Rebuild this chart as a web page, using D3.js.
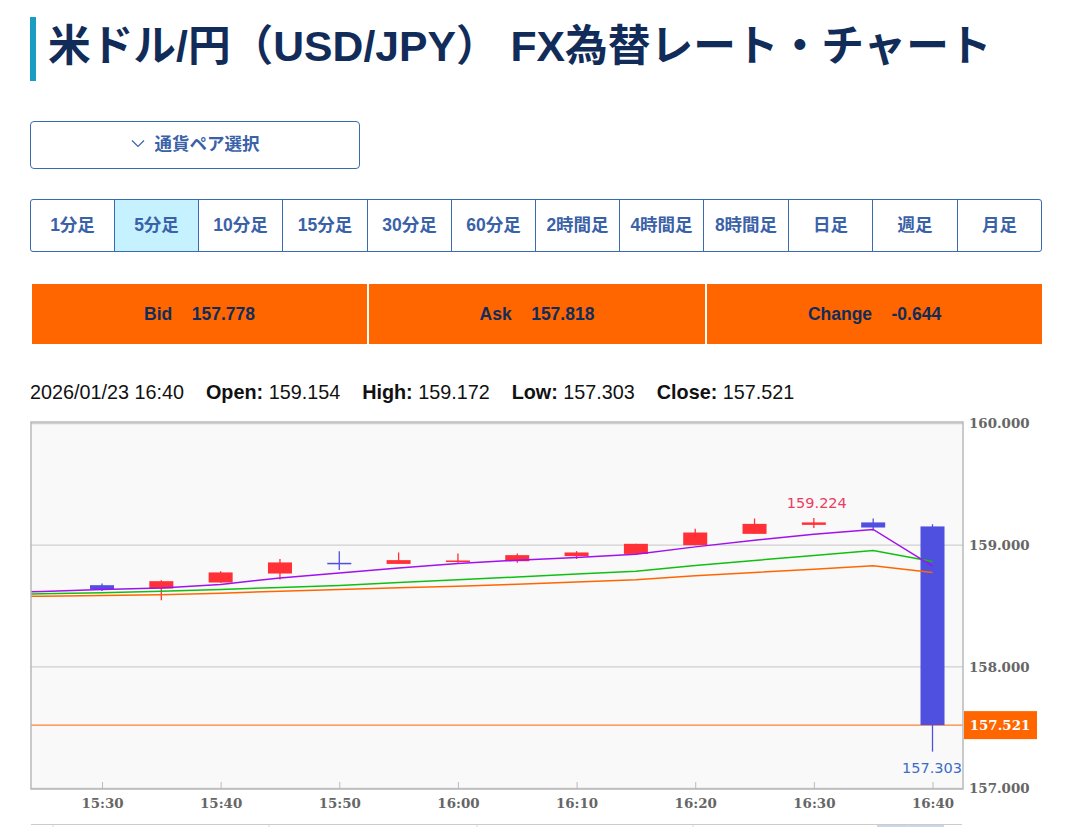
<!DOCTYPE html>
<html lang="ja">
<head>
<meta charset="UTF-8">
<title>米ドル/円（USD/JPY） FX為替レート・チャート</title>
<script src="https://d3js.org/d3.v7.min.js"></script>
<style>
    html, body { margin: 0; padding: 0; background: #fff; overflow: hidden; }
    body { width: 1087px; height: 827px; position: relative; font-family: "Liberation Sans", "Noto Sans CJK JP", sans-serif; }
    .title { position: absolute; left: 30px; top: 17px; height: 64px; width: 1040px; border-left: 6px solid #1a9dc2; box-sizing: border-box;
        padding-left: 12px; font-size: 42.7px; font-weight: bold; line-height: 58px; color: #122c5a; white-space: pre; }
    .pair { position: absolute; left: 30px; top: 121px; width: 330px; height: 48px; box-sizing: border-box; border: 1px solid #3a6ab0; border-radius: 4px;
        text-align: center; line-height: 45px; font-size: 17.5px; font-weight: bold; color: #3a62a8; }
    .pair svg { vertical-align: middle; margin: -3px 10px 0 0; }
    .tabs { position: absolute; left: 30px; top: 199px; width: 1012px; height: 53px; box-sizing: border-box; border: 1px solid #3a6ab0; border-radius: 3px; }
    .tab { position: absolute; top: 0; height: 51px; box-sizing: border-box; text-align: center; line-height: 51px; font-size: 17.5px; font-weight: bold; color: #3a62a8; border-right: 1px solid #3a6ab0; }
    .tab.on { background: #c6f2ff; }
    .tab:last-child { border-right: none; }
    .quote { position: absolute; top: 284px; height: 60px; background: #ff6600; text-align: center; line-height: 60px; font-size: 17.5px; font-weight: bold; color: #122c5a; white-space: pre; }
    .ohlc { position: absolute; left: 30px; top: 381px; font-size: 19.8px; line-height: 22px; color: #111; white-space: pre; }
    #chart { position: absolute; left: 0; top: 0; }
</style>
</head>
<body>
<div class="title">米ドル/円（USD/JPY） FX為替レート・チャート</div>
<div class="pair"><svg width="14" height="9"><path d="M1 1.5 L7 7.5 L13 1.5" fill="none" stroke="#3a62a8" stroke-width="1.2"/></svg>通貨ペア選択</div>
<div class="tabs" id="tabs"></div>
<div id="quotes"></div>
<div class="ohlc" id="ohlc"></div>
<svg id="chart" width="1087" height="827"></svg>
<script>
    // ohlc
    const times = ['15:30','15:35','15:40','15:45','15:50','15:55','16:00','16:05','16:10','16:15','16:20','16:25','16:30','16:35','16:40'];
    const opens = [158.671,158.644,158.693,158.767,158.855,158.846,158.868,158.868,158.910,158.928,159.000,159.093,159.167,159.187,159.154];
    const highs = [158.684,158.712,158.786,158.887,158.951,158.940,158.932,158.932,158.951,159.011,159.134,159.219,159.224,159.220,159.172];
    const lows = [158.624,158.548,158.690,158.718,158.795,158.846,158.855,158.855,158.887,158.928,159.000,159.093,159.142,159.120,157.303];
    const closes = [158.638,158.704,158.776,158.858,158.850,158.877,158.874,158.918,158.940,159.011,159.104,159.175,159.187,159.145,157.521];

    // moving averages, they start before the first candle
    const maTimes = ['15:20','15:25'].concat(times);
    const maPurple = [158.610,158.619,158.636,158.647,158.677,158.731,158.772,158.813,158.850,158.877,158.899,158.926,158.986,159.041,159.090,159.129,158.827];
    const maGreen = [158.596,158.600,158.608,158.622,158.636,158.652,158.669,158.693,158.715,158.739,158.762,158.786,158.833,158.874,158.915,158.956,158.866];
    const maOrange = [158.578,158.581,158.587,158.592,158.605,158.622,158.636,158.649,158.663,158.679,158.698,158.715,158.748,158.776,158.803,158.830,158.776];

    const yTicks = [157, 158, 159, 160];
    const xTicks = ['15:30','15:40','15:50','16:00','16:10','16:20','16:30','16:40'];
    const lastPrice = 157.521;
    const maxLabel = {time: '16:30', value: 159.224};
    const minLabel = {time: '16:40', value: 157.303};

    const tabNames = ['1分足','5分足','10分足','15分足','30分足','60分足','2時間足','4時間足','8時間足','日足','週足','月足'];
    const quoteNames = ['Bid    157.778','Ask    157.818','Change    -0.644'];

    const tabEdges = [0,84,168,252,337,421,505,589,673,758,842,927,1010];
    const quoteEdges = [[32,367],[369,705],[707,1042]];
    const navTicks = [53, 269, 477, 693, 908];

    d3.select('#tabs').selectAll('div').data(tabNames).enter().append('div')
        .attr('class', (d, i) => i === 1 ? 'tab on' : 'tab')
        .style('left', (d, i) => tabEdges[i] + 'px')
        .style('width', (d, i) => (tabEdges[i + 1] - tabEdges[i]) + 'px')
        .text(d => d);

    d3.select('#quotes').selectAll('div').data(quoteNames).enter().append('div')
        .attr('class', 'quote')
        .style('left', (d, i) => quoteEdges[i][0] + 'px')
        .style('width', (d, i) => (quoteEdges[i][1] - quoteEdges[i][0]) + 'px')
        .text(d => d);

    d3.select('#ohlc').html('2026/01/23 16:40    <b>Open:</b> 159.154    <b>High:</b> 159.172    <b>Low:</b> 157.303    <b>Close:</b> 157.521');

    const plot = {left: 31, right: 963, top: 422, bottom: 789};
    const parse = d3.timeParse('%H:%M');
    const fmt = d3.timeFormat('%H:%M');

    const x = d3.scaleTime()
        .domain([parse('15:30'), parse('16:40')])
        .range([102, 932.5]);
    const y = d3.scaleLinear()
        .domain([157, 160])
        .range([788.5, 423.5]);

    const svg = d3.select('#chart');
    svg.append('defs').append('clipPath').attr('id', 'plotClip').append('rect')
        .attr('x', plot.left).attr('y', plot.top)
        .attr('width', plot.right - plot.left).attr('height', plot.bottom - plot.top);

    svg.append('rect')
        .attr('x', plot.left).attr('y', plot.top)
        .attr('width', plot.right - plot.left).attr('height', plot.bottom - plot.top)
        .attr('fill', '#f9f9f9');

    svg.append('g').selectAll('line').data(yTicks).enter().append('line')
        .attr('x1', plot.left).attr('x2', plot.right)
        .attr('y1', d => y(d)).attr('y2', d => y(d))
        .attr('stroke', '#cfcfcf').attr('stroke-width', 1.4);

    // axes
    const axisFont = g => g
        .call(s => s.select('.domain').remove())
        .call(s => s.selectAll('text')
            .attr('font-family', '"DejaVu Serif", serif')
            .attr('font-weight', 'bold')
            .attr('font-size', 13.4)
            .attr('fill', '#666'));

    svg.append('g')
        .attr('transform', `translate(${plot.right}, 0)`)
        .call(d3.axisRight(y).tickValues(yTicks).tickSize(0).tickPadding(6).tickFormat(d3.format('.3f')))
        .call(axisFont);

    svg.append('g')
        .attr('transform', `translate(0, ${plot.bottom})`)
        .call(d3.axisBottom(x).tickValues(xTicks.map(parse)).tickSize(-7).tickPadding(9).tickFormat(fmt))
        .call(axisFont)
        .call(g => g.selectAll('line').attr('stroke', '#bbb'));

    const chartG = svg.append('g').attr('clip-path', 'url(#plotClip)');

    // last price line
    chartG.append('line')
        .attr('x1', plot.left).attr('x2', plot.right)
        .attr('y1', y(lastPrice)).attr('y2', y(lastPrice))
        .attr('stroke', '#ff6600').attr('stroke-width', 1);

    // candles
    const candleW = 24;
    const candles = times.map((t, i) => ({t: parse(t), o: opens[i], h: highs[i], l: lows[i], c: closes[i]}));
    const candle = chartG.append('g').selectAll('g').data(candles).enter().append('g')
        .attr('fill', d => d.c >= d.o ? '#ff3036' : '#4f4fe0')
        .attr('stroke', d => d.c >= d.o ? '#ff3036' : '#4f4fe0');
    candle.append('line')
        .attr('x1', d => x(d.t)).attr('x2', d => x(d.t))
        .attr('y1', d => y(d.h)).attr('y2', d => y(d.l))
        .attr('stroke-width', 1.3);
    candle.append('rect')
        .attr('x', d => x(d.t) - candleW / 2)
        .attr('width', candleW)
        .attr('y', d => y(Math.max(d.o, d.c)))
        .attr('height', d => Math.max(1.5, Math.abs(y(d.o) - y(d.c))))
        .attr('stroke', 'none');

    // ma lines
    const maLine = d3.line()
        .x((d, i) => x(parse(maTimes[i])))
        .y(d => y(d));
    [[maOrange, '#ff6600'], [maGreen, '#10c010'], [maPurple, '#a010f0']].forEach(([vals, color]) => {
        chartG.append('path')
            .attr('d', maLine(vals))
            .attr('fill', 'none')
            .attr('stroke', color)
            .attr('stroke-width', 1.5);
    });

    // plot frame
    svg.append('rect')
        .attr('x', plot.left).attr('y', plot.top)
        .attr('width', plot.right - plot.left).attr('height', plot.bottom - plot.top)
        .attr('fill', 'none').attr('stroke', '#b5b5b5').attr('stroke-width', 1.4);

    // high / low labels
    svg.append('text')
        .attr('x', x(parse(maxLabel.time)) + 3).attr('y', y(maxLabel.value) - 10)
        .attr('text-anchor', 'middle')
        .attr('font-family', '"DejaVu Sans", sans-serif').attr('font-size', 14.5)
        .attr('fill', '#ee3a63').text(maxLabel.value.toFixed(3));
    svg.append('text')
        .attr('x', 962).attr('y', y(minLabel.value) + 21)
        .attr('text-anchor', 'end')
        .attr('font-family', '"DejaVu Sans", sans-serif').attr('font-size', 14.5)
        .attr('fill', '#3a6cc8').text(minLabel.value.toFixed(3));

    // last price tag
    svg.append('rect')
        .attr('x', 964).attr('y', y(lastPrice) - 14)
        .attr('width', 73).attr('height', 28)
        .attr('fill', '#ff6600');
    svg.append('text')
        .attr('x', 1000).attr('y', y(lastPrice) + 5)
        .attr('text-anchor', 'middle')
        .attr('font-family', '"DejaVu Serif", serif').attr('font-weight', 'bold').attr('font-size', 13.4)
        .attr('fill', '#fff').text(lastPrice.toFixed(3));

    // navigator strip at the page bottom
    svg.append('rect').attr('x', 877).attr('y', 825).attr('width', 67).attr('height', 2).attr('fill', '#ccd6eb');
    svg.append('line').attr('x1', 31).attr('x2', 962).attr('y1', 824.5).attr('y2', 824.5).attr('stroke', '#ccc');
    svg.append('g').selectAll('line').data(navTicks).enter().append('line')
        .attr('x1', d => d).attr('x2', d => d)
        .attr('y1', 825).attr('y2', 827)
        .attr('stroke', '#ddd');
</script>
</body>
</html>
